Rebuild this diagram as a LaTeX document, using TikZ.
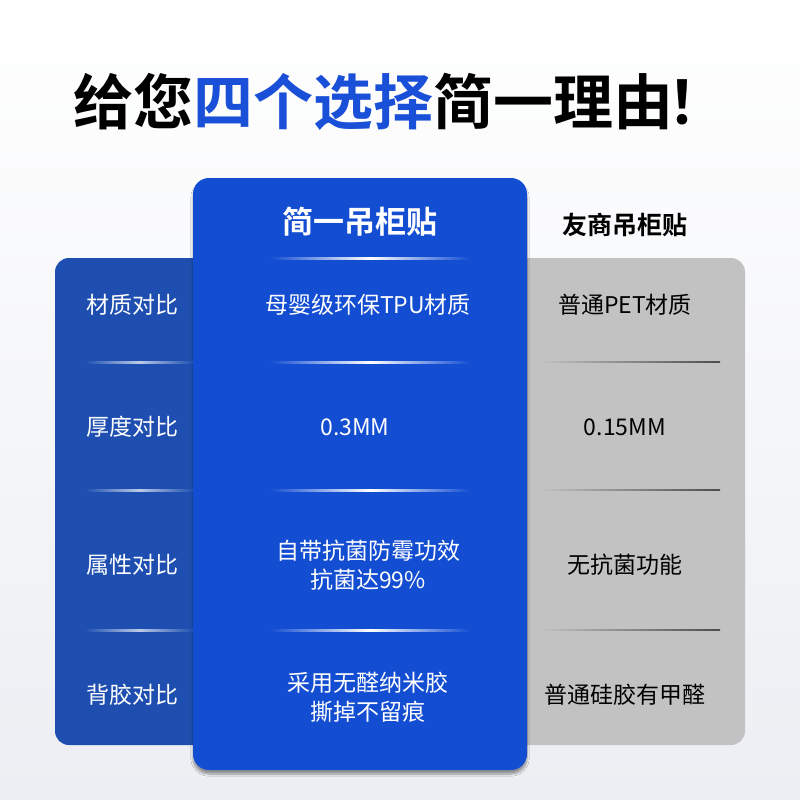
\documentclass[tikz,border=0pt]{standalone}
\usepackage{fontspec}
\setmainfont{Noto Sans CJK SC}
\newfontfamily\cjkb{Noto Sans CJK SC Bold}
\usetikzlibrary{shadows.blur}
\definecolor{bgbot}{HTML}{ECEEF3}
\definecolor{tblue}{HTML}{1A4FD8}
\definecolor{dblue}{HTML}{1E4FB0}
\definecolor{mblue}{HTML}{134DD2}
\definecolor{gpanel}{HTML}{C2C2C2}
\tikzset{
  lab/.style={text=white,font=\fontsize{23}{27}\selectfont,align=center},
  mid/.style={text=white,font=\fontsize{23}{29}\selectfont,align=center},
  rgt/.style={text=black,font=\fontsize{23}{27}\selectfont,align=center},
}
\begin{document}
\begin{tikzpicture}[x=1pt,y=-1pt]
\useasboundingbox (0,0) rectangle (800,800);
\shade[top color=white,bottom color=bgbot] (0,0) rectangle (800,800);
\node (title) at (400,102) {\cjkb\fontsize{60}{66}\selectfont 给您\textcolor{tblue}{四个选择}简一理由\hspace{-6pt}！};
% panels
\fill[dblue,rounded corners=14] (55,258) rectangle (230,745);
\fill[gpanel,rounded corners=14] (500,258) rectangle (745,745);
\fill[mblue,rounded corners=16,blur shadow={shadow blur steps=8,shadow xshift=0pt,shadow yshift=-4pt,shadow opacity=40}] (193,178) rectangle (527,770);
\node[text=white,font=\cjkb\fontsize{31}{35}\selectfont] (h1) at (360,222) {简一吊柜贴};
\node[text=black,font=\cjkb\fontsize{25}{30}\selectfont] (h2) at (625,225) {友商吊柜贴};
% separators
\foreach \y in {258,362,490,630}{
  \shade[left color=mblue,right color=mblue,middle color=white] (270,\y-1) rectangle (470,\y+1);
}
\foreach \y in {362,490,630}{
  \shade[left color=dblue,right color=dblue,middle color=white!70!dblue] (85,\y-1) rectangle (193,\y+1);
  \shade[left color=gpanel,right color=black!70] (540,\y-0.8) rectangle (720,\y+0.8);
}
\node[lab] (l1) at (132,305) {材质对比};
\node[lab] (l2) at (132,427) {厚度对比};
\node[lab] (l3) at (132,565) {属性对比};
\node[lab] (l4) at (132,695) {背胶对比};
\node[mid] (m1) at (368,305) {母婴级环保TPU材质};
\node[mid] (m2) at (355,427) {0.3MM};
\node[mid] (m3) at (368,565) {自带抗菌防霉功效\\抗菌达99\%};
\node[mid] (m4) at (368,697) {采用无醛纳米胶\\撕掉不留痕};
\node[rgt] (r1) at (625,305) {普通PET材质};
\node[rgt] (r2) at (625,427) {0.15MM};
\node[rgt] (r3) at (625,565) {无抗菌功能};
\node[rgt] (r4) at (625,695) {普通硅胶有甲醛};
\end{tikzpicture}
\end{document}
